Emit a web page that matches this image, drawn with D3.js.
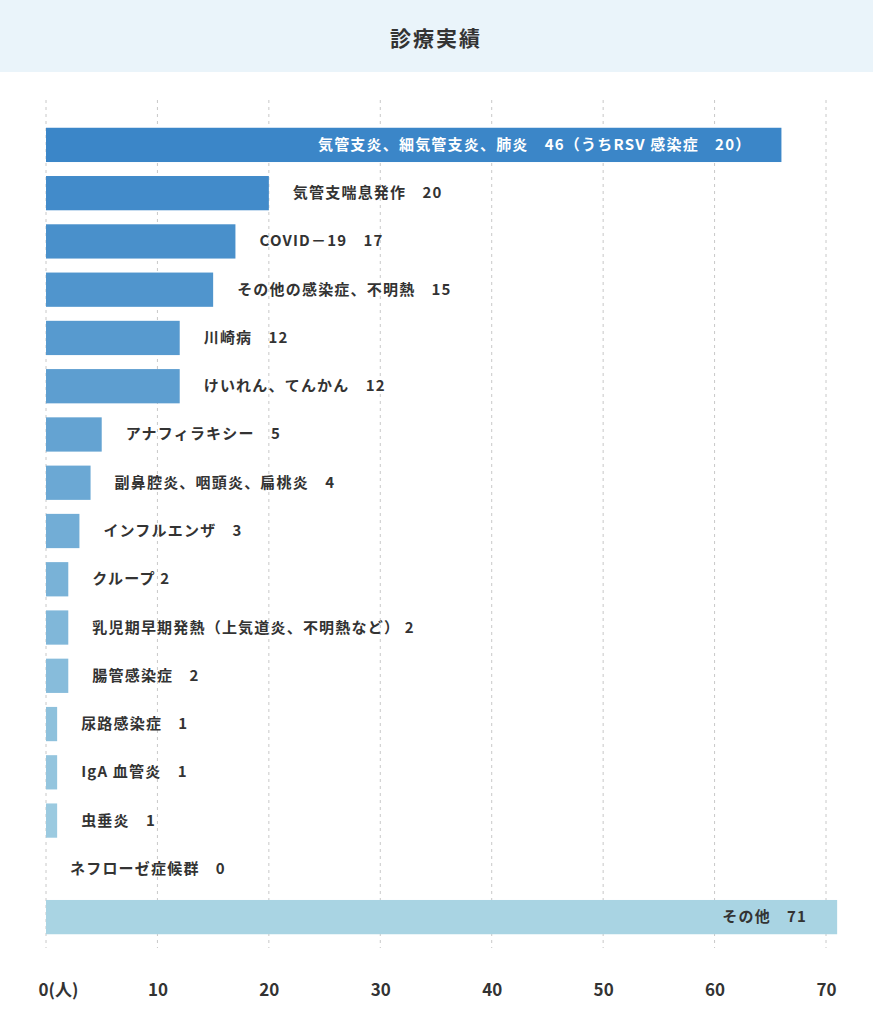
<!DOCTYPE html>
<html><head><meta charset="utf-8">
<script src="https://cdn.jsdelivr.net/npm/d3@7"></script>
<style>body{margin:0;background:#fff;font-family:"Noto Sans CJK JP","Noto Sans",sans-serif}</style>
</head><body><svg id="c" width="873" height="1024"></svg>
<script>
const categories=["気管支炎、細気管支炎、肺炎","気管支喘息発作","COVID－19","その他の感染症、不明熱","川崎病","けいれん、てんかん","アナフィラキシー","副鼻腔炎、咽頭炎、扁桃炎","インフルエンザ","クループ","乳児期早期発熱（上気道炎、不明熱など）","腸管感染症","尿路感染症","IgA 血管炎","虫垂炎","ネフローゼ症候群","その他"];
const values=[46,20,17,15,12,12,5,4,3,2,2,2,1,1,1,0,71];
const extra=[20,0,0,0,0,0,0,0,0,0,0,0,0,0,0,0,0]; // うちRSV感染症
const ticks=[0,10,20,30,40,50,60,70];
const tickLabels=["0(人)","10","20","30","40","50","60","70"];
const gaps=["　",""," "," "," "," "," "," "," "," ",""," "," "," "," "," "," "];

const svg=d3.select("#c");
svg.append("rect").attr("width",873).attr("height",72).attr("fill","#eaf4fa");
svg.append("text").attr("x",436).attr("y",46).attr("text-anchor","middle").attr("font-size",21).attr("font-weight",700).attr("fill","#333").attr("letter-spacing",2).text("診療実績");
const x=d3.scaleLinear().domain([0,70]).range([46,826]);
const y=d3.scaleBand().domain(categories).range([121,941]).paddingInner(0.29).paddingOuter(0.14);
const g=svg.append("g");
g.selectAll("line.grid").data(ticks).join("line").attr("x1",d=>x(d)).attr("x2",d=>x(d)).attr("y1",100).attr("y2",948).attr("stroke","#c8c8c8").attr("stroke-dasharray","3,4");
const col=d3.interpolateRgb("#3b86c8","#a9d4e3");
const n=categories.length;
const lbl=(i)=>{const c=categories[i],v=values[i];
 if(i===0) return `${c}　${v}（うちRSV 感染症　${extra[i]}）`;
 if(i===9) return `${c} ${v}`;
 if(i===10) return `${c} ${v}`;
 return `${c}　${v}`;};
g.selectAll("rect.bar").data(values).join("rect").attr("x",x(0)).attr("y",(d,i)=>y(categories[i])).attr("height",y.bandwidth()).attr("width",(d,i)=>x(d+extra[i])-x(0)).attr("fill",(d,i)=>col(i/(n-1)));
g.selectAll("text.lab").data(values).join("text")
 .attr("x",(d,i)=>{const e=x(d+extra[i]); return (i===0||i===n-1)?e-30:e+24;})
 .attr("text-anchor",(d,i)=>(i===0||i===n-1)?"end":"start")
 .attr("y",(d,i)=>y(categories[i])+y.bandwidth()/2+5)
 .attr("font-size",15).attr("font-weight",700).attr("letter-spacing",1.2)
 .attr("fill",(d,i)=>i===0?"#fff":"#333").text((d,i)=>lbl(i));
const ax=svg.append("g").attr("transform","translate(0,988)").call(d3.axisBottom(x).tickValues(ticks).tickFormat((d,i)=>tickLabels[i]).tickSize(0));
ax.select(".domain").remove();
ax.selectAll("text").attr("font-size",17).attr("font-weight",700).attr("fill","#333").attr("font-family","'Noto Sans CJK JP',sans-serif").attr("dy","0.3em").attr("dx",(d)=>d===0?12:0);
</script></body></html>
